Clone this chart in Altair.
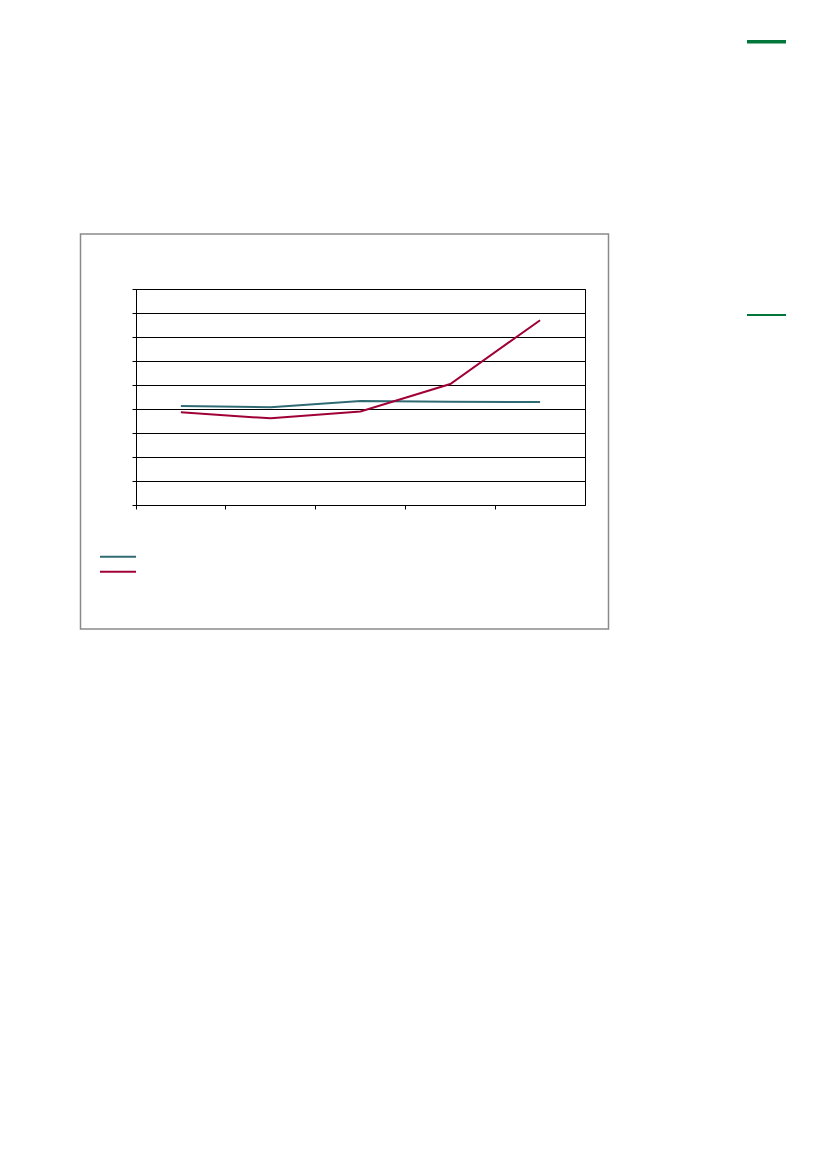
import altair as alt
import pandas as pd

# ---- data ----
periods = ["P1", "P2", "P3", "P4", "P5"]
series_a = [4.12, 4.07, 4.33, 4.30, 4.29]
series_b = [3.86, 3.61, 3.90, 5.04, 7.70]
series_names = ["Series A", "Series B"]
series_colors = ["#306B73", "#A00038"]
y_ticks = list(range(10))

df = pd.DataFrame({
    "period": periods * 2,
    "value": series_a + series_b,
    "series": [series_names[0]] * len(periods) + [series_names[1]] * len(periods),
})
one = pd.DataFrame({"k": [0]})

W, H = 449, 216

lines = alt.Chart(df).mark_line(strokeWidth=2).encode(
    x=alt.X("period:N", sort=periods,
            scale=alt.Scale(type="band", paddingInner=0, paddingOuter=0),
            axis=alt.Axis(labels=False, title=None, bandPosition=0, tickSize=4,
                          tickColor="black", domainColor="black", grid=False)),
    y=alt.Y("value:Q", scale=alt.Scale(domain=[0, 9], nice=False, zero=True),
            axis=alt.Axis(values=y_ticks, labels=False, title=None, tickSize=4,
                          tickColor="black", domainColor="black", grid=True,
                          gridColor="black", gridOpacity=1, gridWidth=1)),
    color=alt.Color("series:N", scale=alt.Scale(domain=series_names, range=series_colors),
                    legend=None),
)

frame = alt.Chart(one).mark_rect(fillOpacity=0, stroke="#8a8a8a", strokeWidth=1.5).encode(
    x=alt.value(-55.5), x2=alt.value(472.5), y=alt.value(-55), y2=alt.value(340)
)

leg_a = alt.Chart(one).mark_rule(color=series_colors[0], strokeWidth=2).encode(
    x=alt.value(-36), x2=alt.value(0), y=alt.value(267.7)
)
leg_b = alt.Chart(one).mark_rule(color=series_colors[1], strokeWidth=2).encode(
    x=alt.value(-36), x2=alt.value(0), y=alt.value(282.7)
)

green1 = alt.Chart(one).mark_rect(color="#00763A").encode(
    x=alt.value(611), x2=alt.value(650), y=alt.value(-249), y2=alt.value(-245.5)
)
green2 = alt.Chart(one).mark_rect(color="#00763A").encode(
    x=alt.value(611), x2=alt.value(650), y=alt.value(25), y2=alt.value(27)
)

chart = alt.layer(frame, lines, leg_a, leg_b, green1, green2).properties(
    width=W, height=H,
    autosize=alt.AutoSizeParams(type="none"),
    padding={"left": 128, "top": 281, "right": 220, "bottom": 140},
    background="white",
).configure_view(stroke="black", strokeWidth=1).configure_axis(tickWidth=1, domainWidth=1)

chart.save("out.html", embed_options={"renderer": "svg", "actions": False})
